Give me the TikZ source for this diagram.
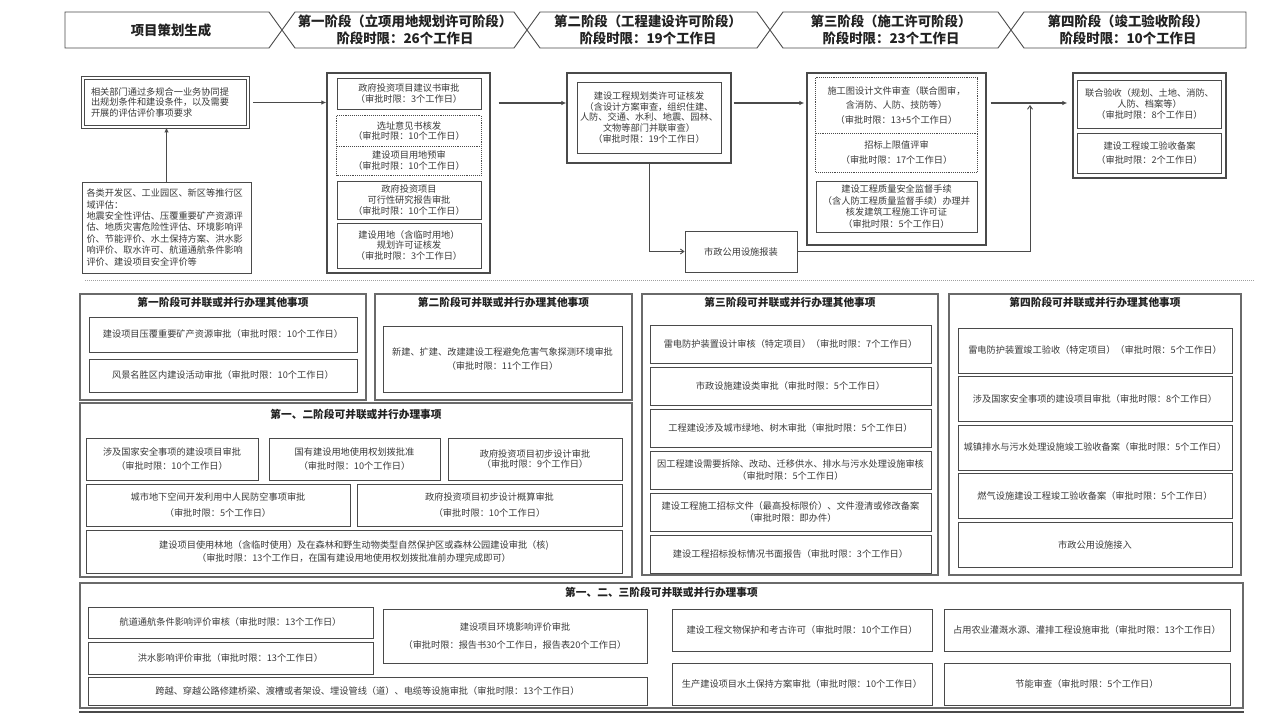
\documentclass[tikz,border=0pt]{standalone}
\usepackage{fontspec}
\setmainfont{Noto Sans CJK SC}
\usetikzlibrary{positioning,arrows.meta}
\definecolor{ink}{HTML}{222222}
\definecolor{ink2}{HTML}{3A3A3A}
\definecolor{edge}{HTML}{4A4A4A}
\definecolor{frame}{HTML}{6A6A6A}
\definecolor{rule}{HTML}{A0A0A0}
\tikzset{
  hdr/.style={draw=edge, line width=0.9pt, fill=white},
  htxt/.style={font=\fontsize{13.4pt}{17pt}\selectfont\bfseries, text=ink, align=center, inner sep=0pt},
  item/.style={draw=edge, line width=0.9pt, fill=white, align=center, inner sep=1.5pt, text=ink2},
  flat/.style={align=center, inner sep=1.5pt, text=ink2},
  dotbox/.style={draw=edge, densely dotted, line width=0.9pt},
  stagebox/.style={draw=edge, line width=1.3pt, fill=white},
  panel/.style={draw=frame, line width=1.2pt, fill=white},
  ptitle/.style={font=\fontsize{10.7pt}{13pt}\selectfont\bfseries, text=ink, inner sep=0pt},
  wh/.style 2 args={minimum width=#1pt, minimum height=#2pt},
  arr/.style={-{Latex[length=5pt,width=4.5pt]}, line width=1.6pt, draw=edge},
  arr2/.style={-{Straight Barb[length=3.5pt,width=5pt]}, line width=0.9pt, draw=edge},
}
\begin{document}
\begin{tikzpicture}[x=1pt, y=-1pt, font=\fontsize{9.2pt}{10.6pt}\selectfont]
  \newcommand{\qx}[1]{（审批时限：#1）}
  \fill[white] (0,0) rectangle (1280,719);
  \useasboundingbox (0,0) rectangle (1280,719);

  % 阶段标题
  \draw[hdr] (65,12) -- (269,12) -- (282,30) -- (269,48) -- (65,48) -- cycle;
  \foreach \a/\b in {282/527, 527/770, 770/1011}
    \draw[hdr] (\a,30) -- (\a+13,12) -- (\b-13,12) -- (\b,30) -- (\b-13,48) -- (\a+13,48) -- cycle;
  \draw[hdr] (1011,30) -- (1024,12) -- (1246,12) -- (1246,48) -- (1024,48) -- cycle;
  \node[htxt] (h0) at (171,30) {项目策划生成};
  \node[htxt] (h1) at (405,30) {第一阶段（立项用地规划许可阶段）\\阶段时限：26个工作日};
  \node[htxt] (h2) at (648,30) {第二阶段（工程建设许可阶段）\\阶段时限：19个工作日};
  \node[htxt] (h3) at (891,30) {第三阶段（施工许可阶段）\\阶段时限：23个工作日};
  \node[htxt] (h4) at (1128,30) {第四阶段（竣工验收阶段）\\阶段时限：10个工作日};

  % 主流程
  \node[item, double=white, double distance=1.6pt, text width=149pt, align=left, inner xsep=8pt, wh={165}{49}] (A) at (165.5,102.5)
    {相关部门通过多规合一业务协同提\\出规划条件和建设条件，以及需要\\开展的评估评价事项要求};
  \node[item, font=\fontsize{9.2pt}{11.4pt}\selectfont, text width=160pt, align=left, inner xsep=4.5pt, wh={169}{91}] (B) at (166.5,227.5)
    {各类开发区、工业园区、新区等推行区\\域评估：\\地震安全性评估、压覆重要矿产资源评\\估、地质灾害危险性评估、环境影响评\\价、节能评价、水土保持方案、洪水影\\响评价、取水许可、航道通航条件影响\\评价、建设项目安全评价等};

  \node[stagebox, wh={163}{200}] (st1) at (408.5,173) {};
  \node[item, wh={144}{31}] (s1a) at (409,93.5) {政府投资项目建议书审批\\\qx{3个工作日}};
  \node[flat, wh={144}{30}] (s1b) at (409,131) {选址意见书核发\\\qx{10个工作日}};
  \node[flat, wh={144}{29}] (s1c) at (409,160.5) {建设项目用地预审\\\qx{10个工作日}};
  \draw[dotbox] (s1b.north west) rectangle (s1c.south east) (s1b.south west) -- (s1b.south east);
  \node[item, wh={144}{38}] (s1d) at (409,200) {政府投资项目\\可行性研究报告审批\\\qx{10个工作日}};
  \node[item, wh={144}{45}] (s1e) at (409,245.5) {建设用地（含临时用地）\\规划许可证核发\\\qx{3个工作日}};

  \node[stagebox, wh={164}{90}] (st2) at (649,118) {};
  \node[item, wh={144}{71}] (s2a) at (649,117.5)
    {建设工程规划类许可证核发\\（含设计方案审查，组织住建、\\人防、交通、水利、地震、园林、\\文物等部门并联审查）\\\qx{19个工作日}};
  \node[item, wh={112}{41}] (sz) at (741,251.5) {市政公用设施报装};

  \node[stagebox, wh={179}{172}] (st3) at (896.5,159) {};
  \node[flat, wh={161}{55}] (s3a) at (896.5,105.5) {施工图设计文件审查（联合图审，\\[3.5pt]含消防、人防、技防等）\\[3.5pt]\qx{13+5个工作日}};
  \node[flat, wh={161}{39}] (s3b) at (896.5,152.5) {招标上限值评审\\[4pt]\qx{17个工作日}};
  \draw[dotbox] (s3a.north west) rectangle (s3b.south east) (s3a.south west) -- (s3a.south east);
  \node[item, wh={161}{51}] (s3c) at (896.5,206.5)
    {建设工程质量安全监督手续\\[1pt]（含人防工程质量监督手续）办理并\\[1pt]核发建筑工程施工许可证\\[1pt]\qx{5个工作日}};

  \node[stagebox, wh={153}{105}] (st4) at (1149.5,125.5) {};
  \node[item, wh={144}{48}] (s4a) at (1149.5,104) {联合验收（规划、土地、消防、\\人防、档案等）\\\qx{8个工作日}};
  \node[item, wh={144}{40}] (s4b) at (1149.5,153) {建设工程竣工验收备案\\[4pt]\qx{2个工作日}};

  \coordinate (row) at (0,103);
  \coordinate (jn) at (1030,105);
  \draw[arr, shorten <=5pt] (A.east) -- (A.east -| st1.west);
  \draw[arr] (B.north) -- (B.north |- A.south);
  \draw[arr, shorten <=8pt] (st1.east |- row) -- (st2.west |- row);
  \draw[arr, shorten <=2pt, shorten >=2pt] (st2.east |- row) -- (st3.west |- row);
  \draw[arr, shorten <=4pt, shorten >=5pt] (st3.east |- row) -- (st4.west |- row);
  \draw[arr2] (st2.south) |- (sz.west);
  \draw[arr2] (sz.east) -| (jn);

  \draw[rule, densely dotted, line width=1pt] (85,281) -- (1254,281);

  % 可并联或并行办理事项
  \node[panel, wh={286}{106}] (p1) at (223,347) {};
  \node[ptitle, below=4pt of p1.north] (t1) {第一阶段可并联或并行办理其他事项};
  \node[item, wh={268}{35}] (p1a) at (223,334.5) {建设项目压覆重要矿产资源审批\qx{10个工作日}};
  \node[item, wh={268}{33}] (p1b) at (223,375.5) {风景名胜区内建设活动审批\qx{10个工作日}};

  \node[panel, wh={257}{106}] (p2) at (503.5,347) {};
  \node[ptitle, below=4pt of p2.north] (t2) {第二阶段可并联或并行办理其他事项};
  \node[item, wh={239}{66}] (p2a) at (502.5,359) {新建、扩建、改建建设工程避免危害气象探测环境审批\\[3pt]\qx{11个工作日}};

  \node[panel, wh={552}{174}] (p3) at (356,490) {};
  \node[ptitle, below=6.5pt of p3.north] (t3) {第一、二阶段可并联或并行办理事项};
  \node[item, wh={172}{42}] (q1) at (172,459) {涉及国家安全事项的建设项目审批\\[3pt]\qx{10个工作日}};
  \node[item, wh={171}{42}] (q2) at (354.5,459) {国有建设用地使用权划拨批准\\[3pt]\qx{10个工作日}};
  \node[item, wh={174}{42}] (q3) at (535,459) {政府投资项目初步设计审批\\\qx{9个工作日}};
  \node[item, wh={264}{42}] (q4) at (218,505) {城市地下空间开发利用中人民防空事项审批\\[5pt]\qx{5个工作日}};
  \node[item, wh={265}{42}] (q5) at (489.5,505) {政府投资项目初步设计概算审批\\[5pt]\qx{10个工作日}};
  \node[item, wh={536}{43}] (q6) at (354,551.5)
    {建设项目使用林地（含临时使用）及在森林和野生动物类型自然保护区或森林公园建设审批（核)\\[3pt]（审批时限：13个工作日，在国有建设用地使用权划拨批准前办理完成即可）};

  \node[panel, wh={296}{281}] (p4) at (790,434.5) {};
  \node[ptitle, below=4pt of p4.north] (t4) {第三阶段可并联或并行办理其他事项};
  \node[item, wh={281}{38}] (r1) at (790.5,344.5) {雷电防护装置设计审核（特定项目）\qx{7个工作日}};
  \node[item, wh={281}{38}, below=3pt of r1] (r2) {市政设施建设类审批\qx{5个工作日}};
  \node[item, wh={281}{38}, below=3pt of r2] (r3) {工程建设涉及城市绿地、树木审批\qx{5个工作日}};
  \node[item, wh={281}{38}, below=3pt of r3] (r4) {因工程建设需要拆除、改动、迁移供水、排水与污水处理设施审核\\[2pt]\qx{5个工作日}};
  \node[item, wh={281}{38}, below=3pt of r4] (r5) {建设工程施工招标文件（最高投标限价）、文件澄清或修改备案\\[2pt]\qx{即办件}};
  \node[item, wh={281}{38}, below=3pt of r5] (r6) {建设工程招标投标情况书面报告\qx{3个工作日}};

  \node[panel, wh={292}{281}] (p5) at (1095,434.5) {};
  \node[ptitle, below=4pt of p5.north] (t5) {第四阶段可并联或并行办理其他事项};
  \node[item, wh={274}{45}] (u1) at (1095,350.5) {雷电防护装置竣工验收（特定项目）\qx{5个工作日}};
  \node[item, wh={274}{45}, below=2.6pt of u1] (u2) {涉及国家安全事项的建设项目审批\qx{8个工作日}};
  \node[item, wh={274}{45}, below=2.6pt of u2] (u3) {城镇排水与污水处理设施竣工验收备案\qx{5个工作日}};
  \node[item, wh={274}{45}, below=2.6pt of u3] (u4) {燃气设施建设工程竣工验收备案\qx{5个工作日}};
  \node[item, wh={274}{45}, below=2.6pt of u4] (u5) {市政公用设施接入};

  \node[panel, wh={1163}{125}] (p6) at (661.5,645.5) {};
  \draw[edge, line width=2.5pt] ([yshift=-3.5pt]p6.south west) -- ([yshift=-3.5pt]p6.south east);
  \node[ptitle, below=4.5pt of p6.north] (t6) {第一、二、三阶段可并联或并行办理事项};
  \node[item, wh={285}{31}] (v1) at (230.5,622.5) {航道通航条件影响评价审核\qx{13个工作日}};
  \node[item, wh={285}{32}] (v2) at (230.5,658) {洪水影响评价审批\qx{13个工作日}};
  \node[item, wh={264}{54}] (v3) at (515,636) {建设项目环境影响评价审批\\[8pt]（审批时限：报告书30个工作日，报告表20个工作日）};
  \node[item, wh={559}{28}] (v4) at (367.5,691) {跨越、穿越公路修建桥梁、渡槽或者架设、埋设管线（道）、电缆等设施审批\qx{13个工作日}};
  \node[item, wh={260}{42}] (v5) at (802,630) {建设工程文物保护和考古许可\qx{10个工作日}};
  \node[item, wh={286}{42}] (v6) at (1087,630) {占用农业灌溉水源、灌排工程设施审批\qx{13个工作日}};
  \node[item, wh={260}{42}] (v7) at (802,684) {生产建设项目水土保持方案审批\qx{10个工作日}};
  \node[item, wh={286}{42}] (v8) at (1087,684) {节能审查\qx{5个工作日}};
\end{tikzpicture}
\end{document}
